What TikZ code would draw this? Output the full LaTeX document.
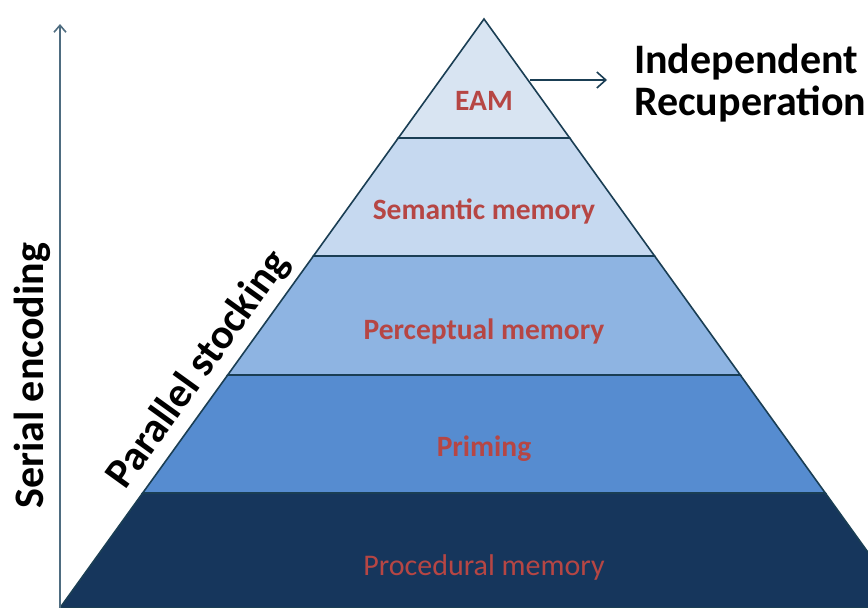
\documentclass[tikz,border=0pt]{standalone}
\usepackage{fontspec}
\setmainfont{Carlito}
\usetikzlibrary{arrows.meta}
\definecolor{edgec}{RGB}{26,62,84}
\definecolor{eamc}{RGB}{216,228,242}
\definecolor{semc}{RGB}{198,217,240}
\definecolor{perc}{RGB}{142,180,226}
\definecolor{pric}{RGB}{86,140,208}
\definecolor{proc}{RGB}{22,54,92}
\definecolor{labc}{RGB}{182,70,68}
\definecolor{axisc}{RGB}{78,108,128}
\tikzset{
  layer/.style={draw=edgec, line width=1.6pt, line join=miter},
  lab/.style={text=labc, font=\bfseries\fontsize{29.5}{32}\selectfont, inner sep=0pt},
  big/.style={text=black, font=\bfseries\fontsize{42}{42}\selectfont, inner sep=0pt},
  conn/.style={draw=edgec, line width=1.6pt, -{Straight Barb[length=9pt,width=16pt,line width=1.6pt]}}
}
\begin{document}
\begin{tikzpicture}[x=1pt,y=-1pt]
\useasboundingbox (0,0) rectangle (868,608);
\fill[white] (0,0) rectangle (868,608);
\begin{scope}
\clip (0,0) rectangle (868,608);
% layers, bottom to top
\path[layer, fill=proc] (142.7,493) -- (825.3,493) -- (908.1,608) -- (59.9,608) -- cycle;
\path[layer, fill=pric] (227.7,375) -- (740.3,375) -- (825.3,493) -- (142.7,493) -- cycle;
\path[layer, fill=perc] (313.4,256) -- (654.6,256) -- (740.3,375) -- (227.7,375) -- cycle;
\path[layer, fill=semc] (398.3,138) -- (569.7,138) -- (654.6,256) -- (313.4,256) -- cycle;
\path[layer, fill=eamc] (484,19) -- (569.7,138) -- (398.3,138) -- cycle;
\end{scope}
% labels
\node[lab] (eam) at (484,101) {EAM};
\node[lab] (sem) at (484,211) {Semantic memory};
\node[lab] (per) at (484,331) {Perceptual memory};
\node[lab] (pri) at (484,449) {Priming};
\node[lab, font=\fontsize{30}{32}\selectfont] (pro) at (484,567) {Procedural memory};
% independent recuperation
\coordinate (eamR) at (530,80);
\node[big, anchor=north west, align=left] (indep) at (634,44) {Independent\\Recuperation};
\draw[conn] (eamR) -- (607,80);
% serial encoding axis
\coordinate (axB) at (60,608);
\coordinate (axT) at (60,24);
\draw[draw=axisc, line width=2pt, -{Straight Barb[length=7pt,width=12pt,line width=1.6pt]}] (axB) -- (axT);
\node[big, rotate=90] (serial) at (32,376) {Serial encoding};
% parallel stocking
\node[big, rotate=54.2] (par) at (199,370) {Parallel stocking};
\end{tikzpicture}
\end{document}
